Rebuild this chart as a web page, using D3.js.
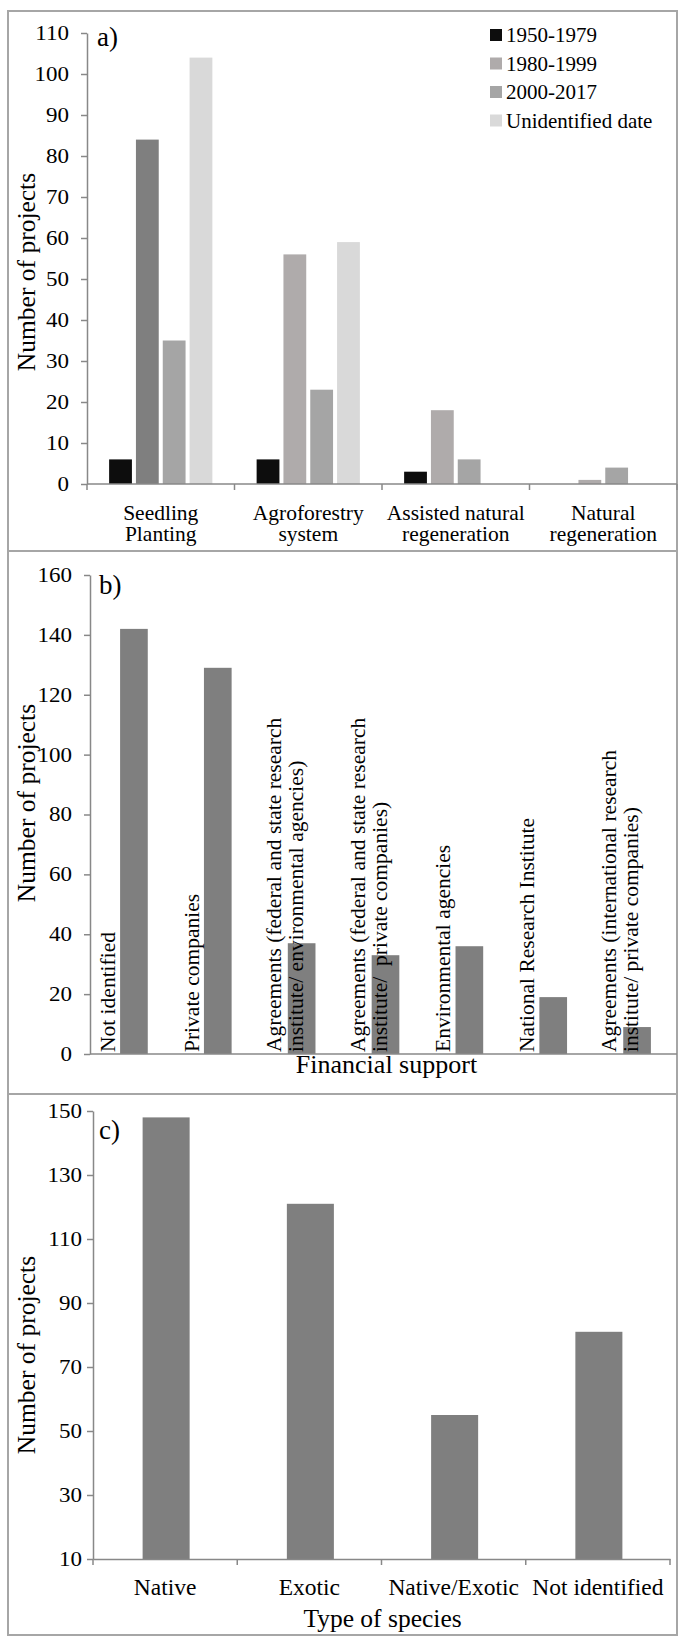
<html>
<head>
<script src="https://cdn.jsdelivr.net/npm/d3@7"></script>
<style>
  body { margin: 0; background: white; }
</style>
</head>
<body>
<div id="chart"></div>
<script>
// ---- data ----
const practiceCategories = ["Seedling Planting", "Agroforestry system", "Assisted natural regeneration", "Natural regeneration"];
const practiceTickLines = [["Seedling", "Planting"], ["Agroforestry", "system"], ["Assisted natural", "regeneration"], ["Natural", "regeneration"]];
const periodSeries = ["1950-1979", "1980-1999", "2000-2017", "Unidentified date"];
const projects1950to1979 = [6, 6, 3, 0];
const projects1980to1999 = [84, 56, 18, 1];
const projects2000to2017 = [35, 23, 6, 4];
const projectsUnidentifiedDate = [104, 59, 0, 0];
const practiceTicks = [0, 10, 20, 30, 40, 50, 60, 70, 80, 90, 100, 110];

const fundingSources = ["Not identified", "Private companies", "Agreements (federal and state research institute/ environmental agencies)",
  "Agreements (federal and state research institute/ private companies)", "Environmental agencies",
  "National Research Institute", "Agreements (international research institute/ private companies)"];
const fundingTickLines = [["Not identified"], ["Private companies"],
  ["Agreements (federal and state research", "institute/ environmental agencies)"],
  ["Agreements (federal and state research", "institute/  private companies)"],
  ["Environmental agencies"], ["National Research Institute"],
  ["Agreements (international research", "institute/ private companies)"]];
const fundingProjects = [142, 129, 37, 33, 36, 19, 9];
const fundingTicks = [0, 20, 40, 60, 80, 100, 120, 140, 160];

const speciesTypes = ["Native", "Exotic", "Native/Exotic", "Not identified"];
const speciesProjects = [148, 121, 55, 81];
const speciesTicks = [10, 30, 50, 70, 90, 110, 130, 150];

// ---- style ----
const periodColors = ["#0d0d0d", "#afabab", "#a5a5a5", "#d9d9d9"];
// the first group's 1980-1999 bar is drawn darker in the original figure
const darkBar = { category: "Seedling Planting", series: "1980-1999", color: "#7f7f7f" };
const barColor = "#7f7f7f";
const axisColor = "#888888";
const frameColor = "#a6a6a6";

const W = 680, H = 1637;
const svg = d3.select("#chart").append("svg")
  .attr("width", W).attr("height", H)
  .attr("viewBox", `0 0 ${W} ${H}`);

// frames
const frameLeft = 8, frameRight = 677;
[[11, 551], [551, 1094], [1094, 1635]].forEach(([t, b]) => {
  svg.append("rect").attr("x", frameLeft).attr("y", t)
    .attr("width", frameRight - frameLeft).attr("height", b - t)
    .attr("fill", "none").attr("stroke", frameColor).attr("stroke-width", 2);
});

const styleAxis = (g, size) => {
  g.select(".domain").attr("stroke", axisColor).attr("stroke-width", 1.5);
  g.selectAll(".tick line").attr("stroke", axisColor).attr("stroke-width", 1.5);
  g.selectAll("text").style("font-size", size + "px").attr("fill", "#000");
};

// y tick labels in the source are drawn a bit wide
const widenTicks = g => g.selectAll(".tick text").each(function () {
  const t = d3.select(this), x = +t.attr("x");
  t.attr("x", 0).attr("transform", `translate(${x},0) scale(1.15,1)`);
});

const yTitle = (cx, cy) => svg.append("text")
  .attr("transform", `translate(${cx},${cy}) rotate(-90)`)
  .attr("text-anchor", "middle")
  .style("font-size", "25.5px")
  .text("Number of projects");

const panelTag = (x, y, t) => svg.append("text").attr("x", x).attr("y", y)
  .style("font-size", "27px").text(t);

// ---- panel a ----
{
  const left = 87, right = 677, top = 33, bottom = 484;
  const y = d3.scaleLinear().domain([0, 110]).range([bottom, top]);
  const x0 = d3.scaleBand().domain(practiceCategories).range([left, right])
    .paddingInner(0.3).paddingOuter(0.15);
  const x1 = d3.scaleBand().domain(periodSeries).range([0, x0.bandwidth()]).paddingInner(0.15);
  const color = d3.scaleOrdinal().domain(periodSeries).range(periodColors);
  const seriesValues = [projects1950to1979, projects1980to1999, projects2000to2017, projectsUnidentifiedDate];

  const rows = [];
  practiceCategories.forEach((c, i) => periodSeries.forEach((s, j) => rows.push({ c, s, v: seriesValues[j][i] })));

  svg.append("g").selectAll("rect").data(rows.filter(d => d.v > 0)).enter().append("rect")
    .attr("x", d => x0(d.c) + x1(d.s))
    .attr("y", d => y(d.v))
    .attr("width", x1.bandwidth())
    .attr("height", d => bottom - y(d.v))
    .attr("fill", d => (d.c === darkBar.category && d.s === darkBar.series) ? darkBar.color : color(d.s));

  const yAxis = svg.append("g").attr("transform", `translate(${left},0)`)
    .call(d3.axisLeft(y).tickValues(practiceTicks).tickSize(6).tickSizeOuter(0).tickPadding(12));
  styleAxis(yAxis, 20);
  widenTicks(yAxis);

  // x axis line with category boundary ticks
  const xg = svg.append("g");
  xg.append("line").attr("x1", left).attr("x2", right).attr("y1", bottom).attr("y2", bottom)
    .attr("stroke", axisColor).attr("stroke-width", 1.5);
  const step = x0.step();
  const edges = practiceCategories.map((c, i) => left + i * step).concat([left + practiceCategories.length * step]);
  xg.selectAll(".bt").data(edges).enter().append("line")
    .attr("x1", d => d).attr("x2", d => d).attr("y1", bottom).attr("y2", bottom + 6)
    .attr("stroke", axisColor).attr("stroke-width", 1.5);

  const lbl = svg.append("g").selectAll("text").data(practiceCategories).enter().append("text")
    .attr("text-anchor", "middle")
    .attr("x", d => x0(d) + x0.bandwidth() / 2)
    .style("font-size", "21.5px");
  lbl.selectAll("tspan").data((d, i) => practiceTickLines[i]).enter().append("tspan")
    .attr("x", function () { return d3.select(this.parentNode).attr("x"); })
    .attr("y", (d, k) => 520 + k * 21)
    .text(d => d);

  yTitle(35, 272);
  panelTag(97, 46, "a)");

  // legend
  const lg = svg.append("g").selectAll("g").data(periodSeries).enter().append("g")
    .attr("transform", (d, i) => `translate(490, ${35 + i * 28.5})`);
  lg.append("rect").attr("x", 0).attr("y", -6).attr("width", 12).attr("height", 12).attr("fill", d => color(d));
  lg.append("text").attr("x", 16).attr("y", 7).style("font-size", "21px").text(d => d);
}

// ---- panel b ----
{
  const left = 90, right = 677, top = 575, bottom = 1054;
  const y = d3.scaleLinear().domain([0, 160]).range([bottom, top]);
  const x = d3.scaleBand().domain(fundingSources).range([left, right]);
  const bw = x.bandwidth() * 0.33;

  svg.append("g").selectAll("rect").data(fundingSources).enter().append("rect")
    .attr("x", d => x(d) + x.bandwidth() / 2 - bw / 2 + 2)
    .attr("y", (d, i) => y(fundingProjects[i]))
    .attr("width", bw)
    .attr("height", (d, i) => bottom - y(fundingProjects[i]))
    .attr("fill", barColor);

  const yAxis = svg.append("g").attr("transform", `translate(${left},0)`)
    .call(d3.axisLeft(y).tickValues(fundingTicks).tickSize(6).tickSizeOuter(0).tickPadding(12));
  styleAxis(yAxis, 20);
  widenTicks(yAxis);

  svg.append("line").attr("x1", left).attr("x2", right).attr("y1", bottom).attr("y2", bottom)
    .attr("stroke", axisColor).attr("stroke-width", 1.5);

  // rotated category labels
  const lg = svg.append("g").selectAll("g").data(fundingSources).enter().append("g");
  lg.each(function (d, i) {
    const lines = fundingTickLines[i];
    const offs = lines.length === 1 ? [25] : [23, 45];
    lines.forEach((t, k) => {
      d3.select(this).append("text")
        .attr("transform", `translate(${x(d) + offs[k]},${bottom - 2}) rotate(-90)`)
        .attr("text-anchor", "start")
        .style("font-size", "21.5px")
        .style("white-space", "pre")
        .text(t);
    });
  });

  svg.append("text").attr("x", (left + right) / 2 + 3).attr("y", 1073)
    .attr("text-anchor", "middle").style("font-size", "26px").text("Financial support");

  yTitle(35, 803);
  panelTag(99, 594, "b)");
}

// ---- panel c ----
{
  const left = 93, right = 670, top = 1111, bottom = 1559;
  const y = d3.scaleLinear().domain([10, 150]).range([bottom, top]);
  const x = d3.scaleBand().domain(speciesTypes).range([left, right]);
  const bw = x.bandwidth() * 0.326;

  svg.append("g").selectAll("rect").data(speciesTypes).enter().append("rect")
    .attr("x", d => x(d) + x.bandwidth() / 2 - bw / 2 + 1)
    .attr("y", (d, i) => y(speciesProjects[i]))
    .attr("width", bw)
    .attr("height", (d, i) => bottom - y(speciesProjects[i]))
    .attr("fill", barColor);

  const yAxis = svg.append("g").attr("transform", `translate(${left},0)`)
    .call(d3.axisLeft(y).tickValues(speciesTicks).tickSize(6).tickSizeOuter(0).tickPadding(5));
  styleAxis(yAxis, 20);
  widenTicks(yAxis);

  const xAxis = svg.append("g").attr("transform", `translate(0,${bottom})`)
    .call(d3.axisBottom(x).tickSize(0).tickSizeOuter(0).tickPadding(19));
  styleAxis(xAxis, 23.5);
  xAxis.selectAll(".tick line").remove();
  const edges = speciesTypes.map(d => x(d)).concat([right]);
  svg.append("g").selectAll("line").data(edges).enter().append("line")
    .attr("x1", d => d).attr("x2", d => d).attr("y1", bottom).attr("y2", bottom + 6)
    .attr("stroke", axisColor).attr("stroke-width", 1.5);

  svg.append("text").attr("x", (left + right) / 2 + 1).attr("y", 1627)
    .attr("text-anchor", "middle").style("font-size", "25.5px").text("Type of species");

  yTitle(35, 1355);
  panelTag(99, 1139, "c)");
}

// Times-like serif for every label
svg.selectAll("text").style("font-family", "'Liberation Serif'").attr("fill", "#000");
</script>
</body>
</html>
